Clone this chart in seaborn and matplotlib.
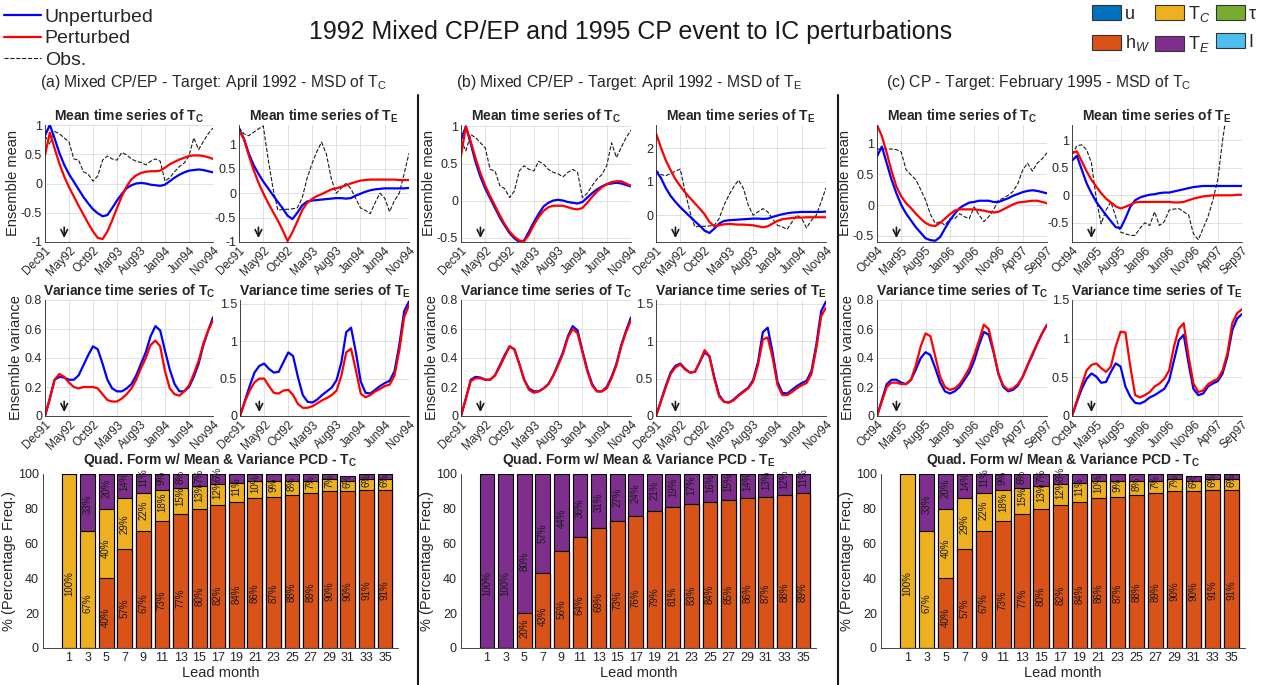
import numpy as np
import pandas as pd
import matplotlib
matplotlib.use("Agg")
import matplotlib.pyplot as plt
import seaborn as sns
from matplotlib.lines import Line2D
from matplotlib.patches import Patch
from matplotlib.ticker import FuncFormatter

# ---------------- data ----------------
months = np.arange(36)
ticks_ab = ['Dec91', 'May92', 'Oct92', 'Mar93', 'Aug93', 'Jan94', 'Jun94', 'Nov94']
ticks_c = ['Oct94', 'Mar95', 'Aug95', 'Jan96', 'Jun96', 'Nov96', 'Apr97', 'Sep97']
target_idx = 4

# ensemble mean, 1992 event (Dec91 - Nov94)
blue_TC_ab = [0.82, 1.0, 0.77, 0.52, 0.32, 0.16, 0.03, -0.1, -0.23, -0.34, -0.44, -0.51, -0.56, -0.54, -0.42, -0.29,
              -0.18, -0.08, -0.03, 0.0, 0.01, 0.0, -0.02, -0.03, -0.04, -0.02, 0.04, 0.1, 0.15, 0.19, 0.22, 0.23,
              0.24, 0.23, 0.21, 0.19]
red_TC_a = [0.48, 0.87, 0.6, 0.34, 0.12, -0.06, -0.22, -0.38, -0.53, -0.68, -0.82, -0.93, -0.95, -0.82, -0.63, -0.42,
            -0.22, -0.05, 0.07, 0.14, 0.18, 0.2, 0.21, 0.21, 0.22, 0.27, 0.33, 0.37, 0.41, 0.44, 0.47, 0.48, 0.48,
            0.47, 0.45, 0.42]
red_TC_b = [0.6, 1.0, 0.8, 0.57, 0.37, 0.2, 0.06, -0.07, -0.2, -0.32, -0.42, -0.49, -0.54, -0.55, -0.46, -0.33,
            -0.22, -0.14, -0.09, -0.07, -0.07, -0.07, -0.09, -0.11, -0.12, -0.1, -0.03, 0.05, 0.12, 0.18, 0.22,
            0.25, 0.26, 0.26, 0.23, 0.2]
obs_TC_ab = [0.82, 0.67, 0.89, 0.85, 0.78, 0.71, 0.42, 0.4, 0.2, 0.16, 0.04, 0.13, 0.4, 0.47, 0.42, 0.4, 0.53,
             0.49, 0.42, 0.38, 0.36, 0.32, 0.38, 0.42, 0.38, 0.04, 0.1, 0.2, 0.29, 0.35, 0.47, 0.78, 0.58, 0.72,
             0.85, 0.95]
blue_TE_ab = [1.32, 1.12, 0.82, 0.58, 0.4, 0.24, 0.1, -0.04, -0.18, -0.31, -0.46, -0.53, -0.4, -0.25, -0.17, -0.15,
              -0.14, -0.13, -0.12, -0.11, -0.1, -0.1, -0.11, -0.1, -0.05, -0.01, 0.03, 0.06, 0.08, 0.09, 0.1, 0.1,
              0.1, 0.1, 0.1, 0.11]
red_TE_a = [1.28, 1.12, 0.78, 0.48, 0.22, 0.0, -0.2, -0.38, -0.56, -0.76, -0.98, -0.8, -0.58, -0.35, -0.2, -0.12,
            -0.06, -0.02, 0.03, 0.08, 0.1, 0.13, 0.16, 0.2, 0.23, 0.26, 0.27, 0.28, 0.28, 0.28, 0.28, 0.28, 0.28,
            0.27, 0.27, 0.27]
red_TE_b = [2.45, 2.03, 1.65, 1.35, 1.08, 0.87, 0.68, 0.52, 0.36, 0.2, 0.03, -0.2, -0.33, -0.3, -0.27, -0.26,
            -0.27, -0.28, -0.28, -0.29, -0.3, -0.33, -0.36, -0.33, -0.25, -0.17, -0.12, -0.1, -0.08, -0.07, -0.07,
            -0.06, -0.06, -0.06, -0.06, -0.06]
obs_TE_ab = [1.35, 1.22, 1.18, 1.25, 1.32, 1.38, 0.7, 0.1, -0.35, -0.33, -0.33, -0.32, -0.3, -0.1, 0.3, 0.6, 0.85,
             1.05, 0.8, 0.3, 0.0, 0.1, 0.2, 0.1, -0.1, -0.3, -0.35, -0.42, -0.2, 0.0, -0.1, -0.38, -0.15, 0.0,
             0.4, 0.82]

# ensemble variance, 1992 event
blue_TCvar_ab = [0, 0.12, 0.25, 0.27, 0.265, 0.25, 0.25, 0.28, 0.35, 0.42, 0.48, 0.46, 0.36, 0.25, 0.19, 0.17,
                 0.17, 0.19, 0.22, 0.28, 0.36, 0.44, 0.55, 0.62, 0.59, 0.45, 0.32, 0.22, 0.17, 0.17, 0.2, 0.27,
                 0.36, 0.49, 0.59, 0.68]
red_TCvar_a = [0, 0.12, 0.25, 0.29, 0.27, 0.23, 0.2, 0.19, 0.2, 0.2, 0.2, 0.19, 0.15, 0.11, 0.1, 0.1, 0.12, 0.15,
               0.19, 0.25, 0.33, 0.4, 0.49, 0.52, 0.48, 0.31, 0.19, 0.15, 0.14, 0.17, 0.21, 0.29, 0.38, 0.5, 0.59,
               0.66]
red_TCvar_b = [0, 0.12, 0.24, 0.26, 0.26, 0.25, 0.25, 0.28, 0.34, 0.41, 0.48, 0.46, 0.36, 0.25, 0.18, 0.16, 0.17,
               0.19, 0.22, 0.28, 0.35, 0.43, 0.54, 0.6, 0.57, 0.44, 0.31, 0.21, 0.17, 0.17, 0.19, 0.26, 0.35, 0.48,
               0.58, 0.66]
blue_TEvar_ab = [0, 0.2, 0.4, 0.58, 0.67, 0.7, 0.63, 0.58, 0.59, 0.72, 0.85, 0.8, 0.52, 0.28, 0.19, 0.18, 0.22,
                 0.28, 0.33, 0.38, 0.48, 0.72, 1.12, 1.18, 0.85, 0.46, 0.31, 0.3, 0.35, 0.4, 0.44, 0.47, 0.6, 0.95,
                 1.4, 1.53]
red_TEvar_a = [0, 0.19, 0.34, 0.45, 0.5, 0.5, 0.4, 0.31, 0.3, 0.34, 0.35, 0.28, 0.16, 0.11, 0.11, 0.13, 0.17,
               0.21, 0.24, 0.28, 0.34, 0.54, 0.85, 0.9, 0.61, 0.3, 0.25, 0.28, 0.33, 0.36, 0.4, 0.42, 0.54, 0.88,
               1.32, 1.48]
red_TEvar_b = [0, 0.19, 0.38, 0.56, 0.65, 0.69, 0.62, 0.58, 0.59, 0.72, 0.88, 0.8, 0.5, 0.26, 0.19, 0.18, 0.21,
               0.27, 0.32, 0.37, 0.46, 0.68, 1.02, 1.05, 0.78, 0.42, 0.28, 0.28, 0.32, 0.37, 0.41, 0.44, 0.56, 0.9,
               1.33, 1.45]

# 1995 event (Oct94 - Sep97)
blue_TC_c = [0.79, 0.95, 0.68, 0.41, 0.19, 0.0, -0.14, -0.25, -0.36, -0.45, -0.54, -0.57, -0.58, -0.52, -0.38,
             -0.25, -0.14, -0.05, 0.0, 0.04, 0.05, 0.07, 0.07, 0.07, 0.05, 0.05, 0.08, 0.11, 0.15, 0.18, 0.21, 0.23,
             0.24, 0.23, 0.21, 0.19]
red_TC_c = [1.3, 1.12, 0.85, 0.55, 0.3, 0.14, 0.03, -0.05, -0.14, -0.22, -0.29, -0.33, -0.34, -0.29, -0.22, -0.15,
            -0.09, -0.07, -0.07, -0.07, -0.07, -0.08, -0.09, -0.11, -0.12, -0.11, -0.07, -0.03, 0.01, 0.04, 0.05,
            0.06, 0.07, 0.07, 0.05, 0.03]
obs_TC_c = [0.91, 0.91, 0.91, 0.91, 0.9, 0.86, 0.57, 0.49, 0.41, 0.25, 0.08, -0.15, -0.3, -0.27, -0.33, -0.22,
            -0.22, -0.14, -0.19, -0.22, -0.03, -0.16, -0.27, -0.19, -0.08, 0.08, 0.11, 0.16, 0.22, 0.35, 0.57, 0.68,
            0.55, 0.68, 0.75, 0.85]
blue_TE_c = [0.63, 0.72, 0.47, 0.22, 0.04, -0.12, -0.24, -0.36, -0.47, -0.58, -0.6, -0.42, -0.21, -0.09, -0.04,
             -0.01, 0.01, 0.02, 0.04, 0.05, 0.05, 0.07, 0.09, 0.11, 0.13, 0.15, 0.16, 0.17, 0.17, 0.17, 0.17, 0.17,
             0.17, 0.17, 0.17, 0.17]
red_TE_c = [0.77, 0.8, 0.62, 0.44, 0.28, 0.16, 0.04, -0.06, -0.13, -0.2, -0.24, -0.21, -0.17, -0.13, -0.12, -0.12,
            -0.12, -0.12, -0.12, -0.12, -0.12, -0.13, -0.13, -0.12, -0.09, -0.06, -0.04, -0.02, -0.01, 0.0, 0.0,
            0.0, 0.0, 0.0, 0.01, 0.01]
obs_TE_c = [0.74, 0.9, 0.92, 0.83, 0.59, -0.06, -0.52, -0.27, -0.12, -0.39, -0.67, -0.7, -0.73, -0.73, -0.6, -0.5,
            -0.55, -0.3, -0.55, -0.48, -0.27, -0.25, -0.24, -0.3, -0.36, -0.7, -0.81, -0.6, -0.39, -0.09, 0.28, 1.0,
            1.6, 1.9, 2.1, 2.3]
blue_TCvar_c = [0, 0.11, 0.22, 0.25, 0.25, 0.23, 0.22, 0.25, 0.32, 0.4, 0.44, 0.42, 0.33, 0.23, 0.17, 0.155, 0.17,
                0.2, 0.25, 0.3, 0.38, 0.49, 0.58, 0.56, 0.44, 0.29, 0.2, 0.17, 0.18, 0.21, 0.27, 0.35, 0.42, 0.5,
                0.57, 0.63]
red_TCvar_c = [0, 0.1, 0.2, 0.23, 0.23, 0.22, 0.22, 0.25, 0.35, 0.48, 0.57, 0.55, 0.41, 0.27, 0.2, 0.18, 0.19,
               0.22, 0.27, 0.33, 0.42, 0.52, 0.63, 0.6, 0.45, 0.29, 0.21, 0.18, 0.19, 0.22, 0.27, 0.35, 0.43, 0.5,
               0.57, 0.63]
blue_TEvar_c = [0, 0.18, 0.35, 0.48, 0.55, 0.51, 0.43, 0.44, 0.57, 0.68, 0.64, 0.38, 0.25, 0.17, 0.16, 0.19, 0.24,
                0.27, 0.31, 0.35, 0.46, 0.72, 0.98, 1.05, 0.68, 0.35, 0.27, 0.29, 0.38, 0.42, 0.45, 0.55, 0.77, 1.11,
                1.26, 1.32]
red_TEvar_c = [0, 0.2, 0.4, 0.59, 0.66, 0.68, 0.62, 0.57, 0.64, 0.9, 1.09, 1.08, 0.64, 0.27, 0.24, 0.27, 0.31,
               0.38, 0.42, 0.48, 0.59, 0.9, 1.13, 1.2, 0.77, 0.42, 0.31, 0.33, 0.41, 0.45, 0.48, 0.59, 0.81, 1.2,
               1.33, 1.38]

# PCD bar data (percentage frequency)
lead = [1, 3, 5, 7, 9, 11, 13, 15, 17, 19, 21, 23, 25, 27, 29, 31, 33, 35]
hw_TC = [0, 0, 40, 57, 67, 73, 77, 80, 82, 84, 86, 87, 88, 89, 90, 90, 91, 91]
tc_TC = [100, 67, 40, 29, 22, 18, 15, 13, 12, 11, 10, 9, 8, 7, 7, 6, 6, 6]
te_TC = [0, 33, 20, 14, 11, 9, 8, 7, 6, 5, 4, 4, 4, 4, 3, 3, 3, 3]
hw_TE = [0, 0, 20, 43, 56, 64, 69, 73, 76, 79, 81, 83, 84, 85, 86, 87, 88, 89]
tc_TE = [0] * 18
te_TE = [100, 100, 80, 57, 44, 36, 31, 27, 24, 21, 19, 17, 16, 15, 14, 13, 12, 11]

# ---------------- style ----------------
sns.set_theme(style="white")
plt.rcParams['font.family'] = ['Liberation Sans', 'DejaVu Sans']
plt.rcParams['mathtext.fontset'] = 'custom'
plt.rcParams['mathtext.rm'] = 'Liberation Sans'
plt.rcParams['mathtext.it'] = 'Liberation Sans:italic'
plt.rcParams['mathtext.bf'] = 'Liberation Sans:bold'

BLUE, RED = '#0000FF', '#FF0000'
C_U, C_TC, C_TAU = '#0072BD', '#EDB120', '#77AC30'
C_HW, C_TE, C_I = '#D95319', '#7E2F8E', '#4DBEEE'
AX_C = '#262626'
GRID = '#dcdcdc'

W, H = 1267, 685
fig = plt.figure(figsize=(W / 100, H / 100), dpi=100)


def rect(l, r, t, b):
    return [l / W, 1 - b / H, (r - l) / W, (b - t) / H]


fmt = FuncFormatter(lambda v, p: f'{v:g}')


def line_panel(r, series, ylim, yticks, xlabels, title, ylabel=None):
    ax = fig.add_axes(r)
    for vals, color, ls, lw in series:
        sns.lineplot(x=months, y=vals, color=color, linestyle=ls, linewidth=lw, ax=ax)
    ax.set_xlim(0, 35)
    ax.set_ylim(*ylim)
    ax.set_xticks(np.arange(0, 36, 5))
    ax.set_xticklabels(xlabels, rotation=45, ha='right', rotation_mode='anchor', fontsize=8.5)
    ax.set_yticks(yticks)
    ax.yaxis.set_major_formatter(fmt)
    ax.grid(True, color=GRID, linewidth=0.6)
    ax.set_axisbelow(True)
    for s in ['top', 'right']:
        ax.spines[s].set_visible(False)
    for s in ['left', 'bottom']:
        ax.spines[s].set_color(AX_C)
        ax.spines[s].set_linewidth(0.6)
    ax.tick_params(direction='in', length=3, labelsize=9, colors=AX_C, pad=2)
    ax.tick_params(axis='x', labelsize=8.5)
    ax.set_title(title, fontsize=10, fontweight='bold', pad=3)
    ax.set_xlabel('')
    ax.set_ylabel(ylabel if ylabel else '', fontsize=10.5, color=AX_C, labelpad=1)
    ax.annotate('', xy=(target_idx, 0.01), xycoords=('data', 'axes fraction'),
                xytext=(target_idx, 0.15), textcoords=('data', 'axes fraction'),
                arrowprops=dict(arrowstyle='->', color='k', lw=1.2))
    return ax


def bar_panel(r, hw, tc, te, title):
    ax = fig.add_axes(r)
    df = pd.DataFrame({'lead': lead, 'hw': hw, 'tc': tc, 'te': te})
    df['c2'] = df['hw'] + df['tc']
    df['c3'] = df['c2'] + df['te']
    for col, color in [('c3', C_TE), ('c2', C_TC), ('hw', C_HW)]:
        sns.barplot(data=df, x='lead', y=col, color=color, saturation=1, edgecolor='black', linewidth=0.8,
                    native_scale=True, width=0.8, errorbar=None, ax=ax)
    for i, row in df.iterrows():
        bottom = 0
        for v in [row['hw'], row['tc'], row['te']]:
            if v >= 6:
                ax.text(row['lead'], bottom + 0.3 * v, f'{int(v)}%', rotation=90, rotation_mode='anchor',
                        ha='left', va='center', fontsize=7, color='#1a1a1a')
            bottom += v
    ax.set_xlim(-1.8, 36.4)
    ax.set_ylim(0, 100)
    ax.set_xticks(lead)
    ax.set_xticklabels([str(v) for v in lead])
    ax.set_yticks(range(0, 101, 20))
    for s in ['top', 'right']:
        ax.spines[s].set_visible(False)
    for s in ['left', 'bottom']:
        ax.spines[s].set_color(AX_C)
        ax.spines[s].set_linewidth(0.6)
    ax.tick_params(direction='in', length=3, labelsize=9, colors=AX_C, pad=3)
    ax.set_title(title, fontsize=10, fontweight='bold', pad=7)
    ax.set_xlabel('Lead month', fontsize=10.5, color=AX_C, labelpad=1)
    ax.set_ylabel('% (Percentage Freq.)', fontsize=10.5, color=AX_C, labelpad=1)
    return ax


mtc = r'Mean time series of T$_\mathbf{C}$'
mte = r'Mean time series of T$_\mathbf{E}$'
vtc = r'Variance time series of T$_\mathbf{C}$'
vte = r'Variance time series of T$_\mathbf{E}$'
qtc = r'Quad. Form w/ Mean & Variance PCD - T$_\mathbf{C}$'
qte = r'Quad. Form w/ Mean & Variance PCD - T$_\mathbf{E}$'

# ---- panel (a)
line_panel(rect(45, 213, 125, 242), [(obs_TC_ab, 'k', '--', 0.8), (blue_TC_ab, BLUE, '-', 1.6), (red_TC_a, RED, '-', 1.6)],
           (-1, 1), [-1, -0.5, 0, 0.5, 1], ticks_ab, mtc, 'Ensemble mean')
line_panel(rect(239, 409, 125, 242), [(obs_TE_ab, 'k', '--', 0.8), (blue_TE_ab, BLUE, '-', 1.6), (red_TE_a, RED, '-', 1.6)],
           (-1, 1.4), [-1, -0.5, 0, 0.5, 1], ticks_ab, mte)
line_panel(rect(45, 213, 300, 416), [(blue_TCvar_ab, BLUE, '-', 1.6), (red_TCvar_a, RED, '-', 1.6)],
           (0, 0.8), [0, 0.2, 0.4, 0.6, 0.8], ticks_ab, vtc, 'Ensemble variance')
line_panel(rect(240, 409, 300, 416), [(blue_TEvar_ab, BLUE, '-', 1.6), (red_TEvar_a, RED, '-', 1.6)],
           (0, 1.55), [0, 0.5, 1, 1.5], ticks_ab, vte)
bar_panel(rect(43, 398, 474, 648), hw_TC, tc_TC, te_TC, qtc)

# ---- panel (b)
line_panel(rect(461, 631, 125, 242), [(obs_TC_ab, 'k', '--', 0.8), (blue_TC_ab, BLUE, '-', 1.6), (red_TC_b, RED, '-', 1.6)],
           (-0.56, 1.02), [-0.5, 0, 0.5, 1], ticks_ab, mtc, 'Ensemble mean')
line_panel(rect(656, 826, 125, 242), [(obs_TE_ab, 'k', '--', 0.8), (blue_TE_ab, BLUE, '-', 1.6), (red_TE_b, RED, '-', 1.6)],
           (-0.8, 2.7), [0, 1, 2], ticks_ab, mte)
line_panel(rect(461, 631, 300, 416), [(blue_TCvar_ab, BLUE, '-', 1.6), (red_TCvar_b, RED, '-', 1.6)],
           (0, 0.8), [0, 0.2, 0.4, 0.6, 0.8], ticks_ab, vtc, 'Ensemble variance')
line_panel(rect(656, 826, 300, 416), [(blue_TEvar_ab, BLUE, '-', 1.6), (red_TEvar_b, RED, '-', 1.6)],
           (0, 1.55), [0, 0.5, 1, 1.5], ticks_ab, vte)
bar_panel(rect(461, 816, 474, 648), hw_TE, tc_TE, te_TE, qte)

# ---- panel (c)
line_panel(rect(877, 1047, 125, 242), [(obs_TC_c, 'k', '--', 0.8), (blue_TC_c, BLUE, '-', 1.6), (red_TC_c, RED, '-', 1.6)],
           (-0.6, 1.3), [-0.5, 0, 0.5, 1], ticks_c, mtc, 'Ensemble mean')
line_panel(rect(1072, 1242, 125, 242), [(obs_TE_c, 'k', '--', 0.8), (blue_TE_c, BLUE, '-', 1.6), (red_TE_c, RED, '-', 1.6)],
           (-0.85, 1.28), [-0.5, 0, 0.5, 1], ticks_c, mte)
line_panel(rect(877, 1047, 300, 416), [(blue_TCvar_c, BLUE, '-', 1.6), (red_TCvar_c, RED, '-', 1.6)],
           (0, 0.8), [0, 0.2, 0.4, 0.6, 0.8], ticks_c, vtc, 'Ensemble variance')
line_panel(rect(1072, 1242, 300, 416), [(blue_TEvar_c, BLUE, '-', 1.6), (red_TEvar_c, RED, '-', 1.6)],
           (0, 1.5), [0, 0.5, 1, 1.5], ticks_c, vte)
bar_panel(rect(881, 1245, 474, 648), hw_TC, tc_TC, te_TC, qtc)

# ---- headings
fig.text(631 / W, 1 - 32 / H, '1992 Mixed CP/EP and 1995 CP event to IC perturbations', ha='center', va='center',
         fontsize=18, color='k')
fig.text(213 / W, 1 - 83 / H, r'(a) Mixed CP/EP - Target: April 1992 - MSD of T$_\mathrm{C}$', ha='center',
         va='center', fontsize=11.3)
fig.text(629 / W, 1 - 83 / H, r'(b) Mixed CP/EP - Target: April 1992 - MSD of T$_\mathrm{E}$', ha='center',
         va='center', fontsize=11.3)
fig.text(1039 / W, 1 - 83 / H, r'(c) CP - Target: February 1995 - MSD of T$_\mathrm{C}$', ha='center',
         va='center', fontsize=11.3)

# separators
for xs in (418, 838):
    fig.add_artist(Line2D([xs / W, xs / W], [0, 1 - 95 / H], color='k', lw=1.5))

# legends
lh = [Line2D([], [], color=BLUE, lw=1.6), Line2D([], [], color=RED, lw=1.6),
      Line2D([], [], color='k', lw=0.8, ls='--')]
fig.legend(lh, ['Unperturbed', 'Perturbed', 'Obs.'], loc='upper left', bbox_to_anchor=(0.0, 1.0 - 4 / H),
           frameon=False, fontsize=14, handlelength=1.9, handletextpad=0.2, labelspacing=0.22, borderaxespad=0.1,
           borderpad=0.1)

ph = [Patch(facecolor=C_U, edgecolor='#333333', lw=0.8), Patch(facecolor=C_HW, edgecolor='#333333', lw=0.8),
      Patch(facecolor=C_TC, edgecolor='#333333', lw=0.8), Patch(facecolor=C_TE, edgecolor='#333333', lw=0.8),
      Patch(facecolor=C_TAU, edgecolor='#333333', lw=0.8), Patch(facecolor=C_I, edgecolor='#333333', lw=0.8)]
fig.legend(ph, ['u', 'h$_W$', 'T$_C$', 'T$_E$', 'τ', 'I'], loc='upper right', bbox_to_anchor=(1.0 - 8 / W, 1.0),
           ncol=3, frameon=False, fontsize=13, handlelength=1.6, handleheight=0.9, handletextpad=0.2,
           columnspacing=0.3, labelspacing=0.6, borderaxespad=0.1, borderpad=0.1)

fig.savefig('out.png', dpi=100)
